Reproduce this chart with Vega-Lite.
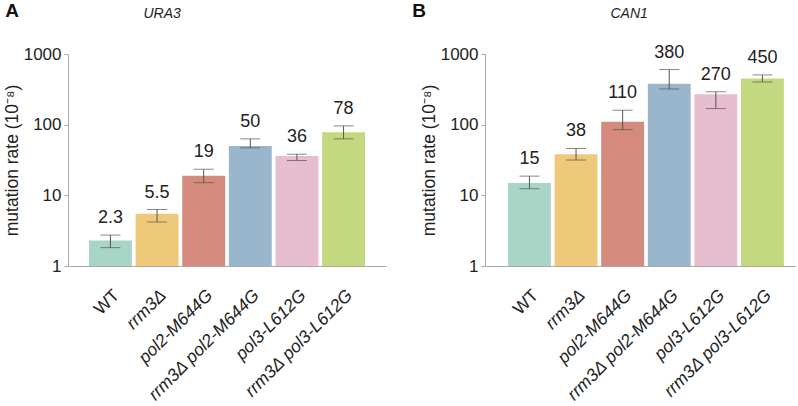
{
  "$schema": "https://vega.github.io/schema/vega-lite/v6.json",
  "padding": {"left": 3, "top": 2, "right": 0, "bottom": 0},
  "config": {
    "font": "Liberation Sans",
    "view": {"stroke": null},
    "concat": {"spacing": 26},
    "axis": {"grid": false, "domainColor": "#aaaaaa", "tickColor": "#aaaaaa", "labelColor": "#222222", "titleColor": "#222222", "titleFontWeight": "normal"}
  },
  "datasets": {
    "ura3": [
      {"genotype": "WT", "rate": 2.3, "lo": 1.82, "hi": 2.74},
      {"genotype": "rrm3Δ", "rate": 5.5, "lo": 4.2, "hi": 6.3},
      {"genotype": "pol2-M644G", "rate": 19, "lo": 15.1, "hi": 23.4},
      {"genotype": "rrm3Δ pol2-M644G", "rate": 50, "lo": 47, "hi": 63},
      {"genotype": "pol3-L612G", "rate": 36, "lo": 31.1, "hi": 38.2},
      {"genotype": "rrm3Δ pol3-L612G", "rate": 78, "lo": 63, "hi": 96}
    ],
    "can1": [
      {"genotype": "WT", "rate": 15, "lo": 12.4, "hi": 18.7},
      {"genotype": "rrm3Δ", "rate": 38, "lo": 31.6, "hi": 46},
      {"genotype": "pol2-M644G", "rate": 110, "lo": 85, "hi": 160},
      {"genotype": "rrm3Δ pol2-M644G", "rate": 380, "lo": 320, "hi": 603},
      {"genotype": "pol3-L612G", "rate": 270, "lo": 169, "hi": 292},
      {"genotype": "rrm3Δ pol3-L612G", "rate": 450, "lo": 402, "hi": 506}
    ]
  },
  "hconcat": [
    {
      "width": 318,
      "height": 212,
      "title": {"text": "A", "anchor": "start", "frame": "bounds", "fontSize": 19, "fontWeight": "bold", "color": "#111111", "offset": -30, "baseline": "alphabetic", "dx": 2},
      "data": {"name": "ura3"},
      "encoding": {
        "x": {
          "field": "genotype", "type": "nominal", "sort": null,
          "scale": {"paddingInner": 0.08, "paddingOuter": 0.45},
          "axis": {
            "title": "URA3", "titleX": 75, "titleY": -249, "titleAngle": 0, "titleAlign": "left", "titleBaseline": "alphabetic",
            "titleFontStyle": "italic", "titleFontSize": 14,
            "labelAngle": -45, "labelAlign": "right", "labelBaseline": "top", "labelFontSize": 17.5, "labelPadding": 20, "ticks": false,
            "labelFontStyle": {"condition": {"test": "datum.value === 'WT'", "value": "normal"}, "value": "italic"}
          }
        }
      },
      "layer": [
        {
          "mark": {"type": "bar"},
          "encoding": {
            "y": {"field": "rate", "type": "quantitative", "scale": {"type": "log", "domain": [1, 1000]},
              "axis": {"title": "mutation rate (10⁻⁸)", "values": [1, 10, 100, 1000], "format": "d", "labelFontSize": 17, "titleFontSize": 17.5, "tickSize": 4, "labelPadding": 3, "titlePadding": 2}},
            "y2": {"datum": 1},
            "color": {"field": "genotype", "type": "nominal", "legend": null,
              "scale": {"domain": ["WT", "rrm3Δ", "pol2-M644G", "rrm3Δ pol2-M644G", "pol3-L612G", "rrm3Δ pol3-L612G"],
                "range": ["#a8d5c6", "#efc97a", "#d48a7c", "#9ab6cc", "#e7bdd0", "#c4d880"]}}
          }
        },
        {"mark": {"type": "rule", "color": "#555555", "strokeWidth": 1}, "encoding": {"y": {"field": "lo", "type": "quantitative"}, "y2": {"field": "hi"}}},
        {"mark": {"type": "tick", "size": 20, "thickness": 1, "color": "#555555"}, "encoding": {"y": {"field": "lo", "type": "quantitative"}}},
        {"mark": {"type": "tick", "size": 20, "thickness": 1, "color": "#555555"}, "encoding": {"y": {"field": "hi", "type": "quantitative"}}},
        {"mark": {"type": "text", "dy": -12, "baseline": "alphabetic", "fontSize": 18, "color": "#222222"},
          "encoding": {"y": {"field": "hi", "type": "quantitative"}, "text": {"field": "rate", "type": "quantitative", "format": "~g"}}}
      ]
    },
    {
      "width": 311,
      "height": 212,
      "title": {"text": "B", "anchor": "start", "frame": "bounds", "fontSize": 19, "fontWeight": "bold", "color": "#111111", "offset": -30, "baseline": "alphabetic", "dx": -8},
      "data": {"name": "can1"},
      "encoding": {
        "x": {
          "field": "genotype", "type": "nominal", "sort": null,
          "scale": {"paddingInner": 0.08, "paddingOuter": 0.377, "align": 0.655},
          "axis": {
            "title": "CAN1", "titleX": 125, "titleY": -249, "titleAngle": 0, "titleAlign": "left", "titleBaseline": "alphabetic",
            "titleFontStyle": "italic", "titleFontSize": 14,
            "labelAngle": -45, "labelAlign": "right", "labelBaseline": "top", "labelFontSize": 17.5, "labelPadding": 20, "ticks": false,
            "labelFontStyle": {"condition": {"test": "datum.value === 'WT'", "value": "normal"}, "value": "italic"}
          }
        }
      },
      "layer": [
        {
          "mark": {"type": "bar"},
          "encoding": {
            "y": {"field": "rate", "type": "quantitative", "scale": {"type": "log", "domain": [1, 1000]},
              "axis": {"title": "mutation rate (10⁻⁸)", "values": [1, 10, 100, 1000], "format": "d", "labelFontSize": 17, "titleFontSize": 17.5, "tickSize": 4, "labelPadding": 3, "titlePadding": 2}},
            "y2": {"datum": 1},
            "color": {"field": "genotype", "type": "nominal", "legend": null,
              "scale": {"domain": ["WT", "rrm3Δ", "pol2-M644G", "rrm3Δ pol2-M644G", "pol3-L612G", "rrm3Δ pol3-L612G"],
                "range": ["#a8d5c6", "#efc97a", "#d48a7c", "#9ab6cc", "#e7bdd0", "#c4d880"]}}
          }
        },
        {"mark": {"type": "rule", "color": "#555555", "strokeWidth": 1}, "encoding": {"y": {"field": "lo", "type": "quantitative"}, "y2": {"field": "hi"}}},
        {"mark": {"type": "tick", "size": 20, "thickness": 1, "color": "#555555"}, "encoding": {"y": {"field": "lo", "type": "quantitative"}}},
        {"mark": {"type": "tick", "size": 20, "thickness": 1, "color": "#555555"}, "encoding": {"y": {"field": "hi", "type": "quantitative"}}},
        {"mark": {"type": "text", "dy": -12, "baseline": "alphabetic", "fontSize": 18, "color": "#222222"},
          "encoding": {"y": {"field": "hi", "type": "quantitative"}, "text": {"field": "rate", "type": "quantitative", "format": "~g"}}}
      ]
    }
  ],
  "resolve": {"scale": {"color": "independent"}}
}
